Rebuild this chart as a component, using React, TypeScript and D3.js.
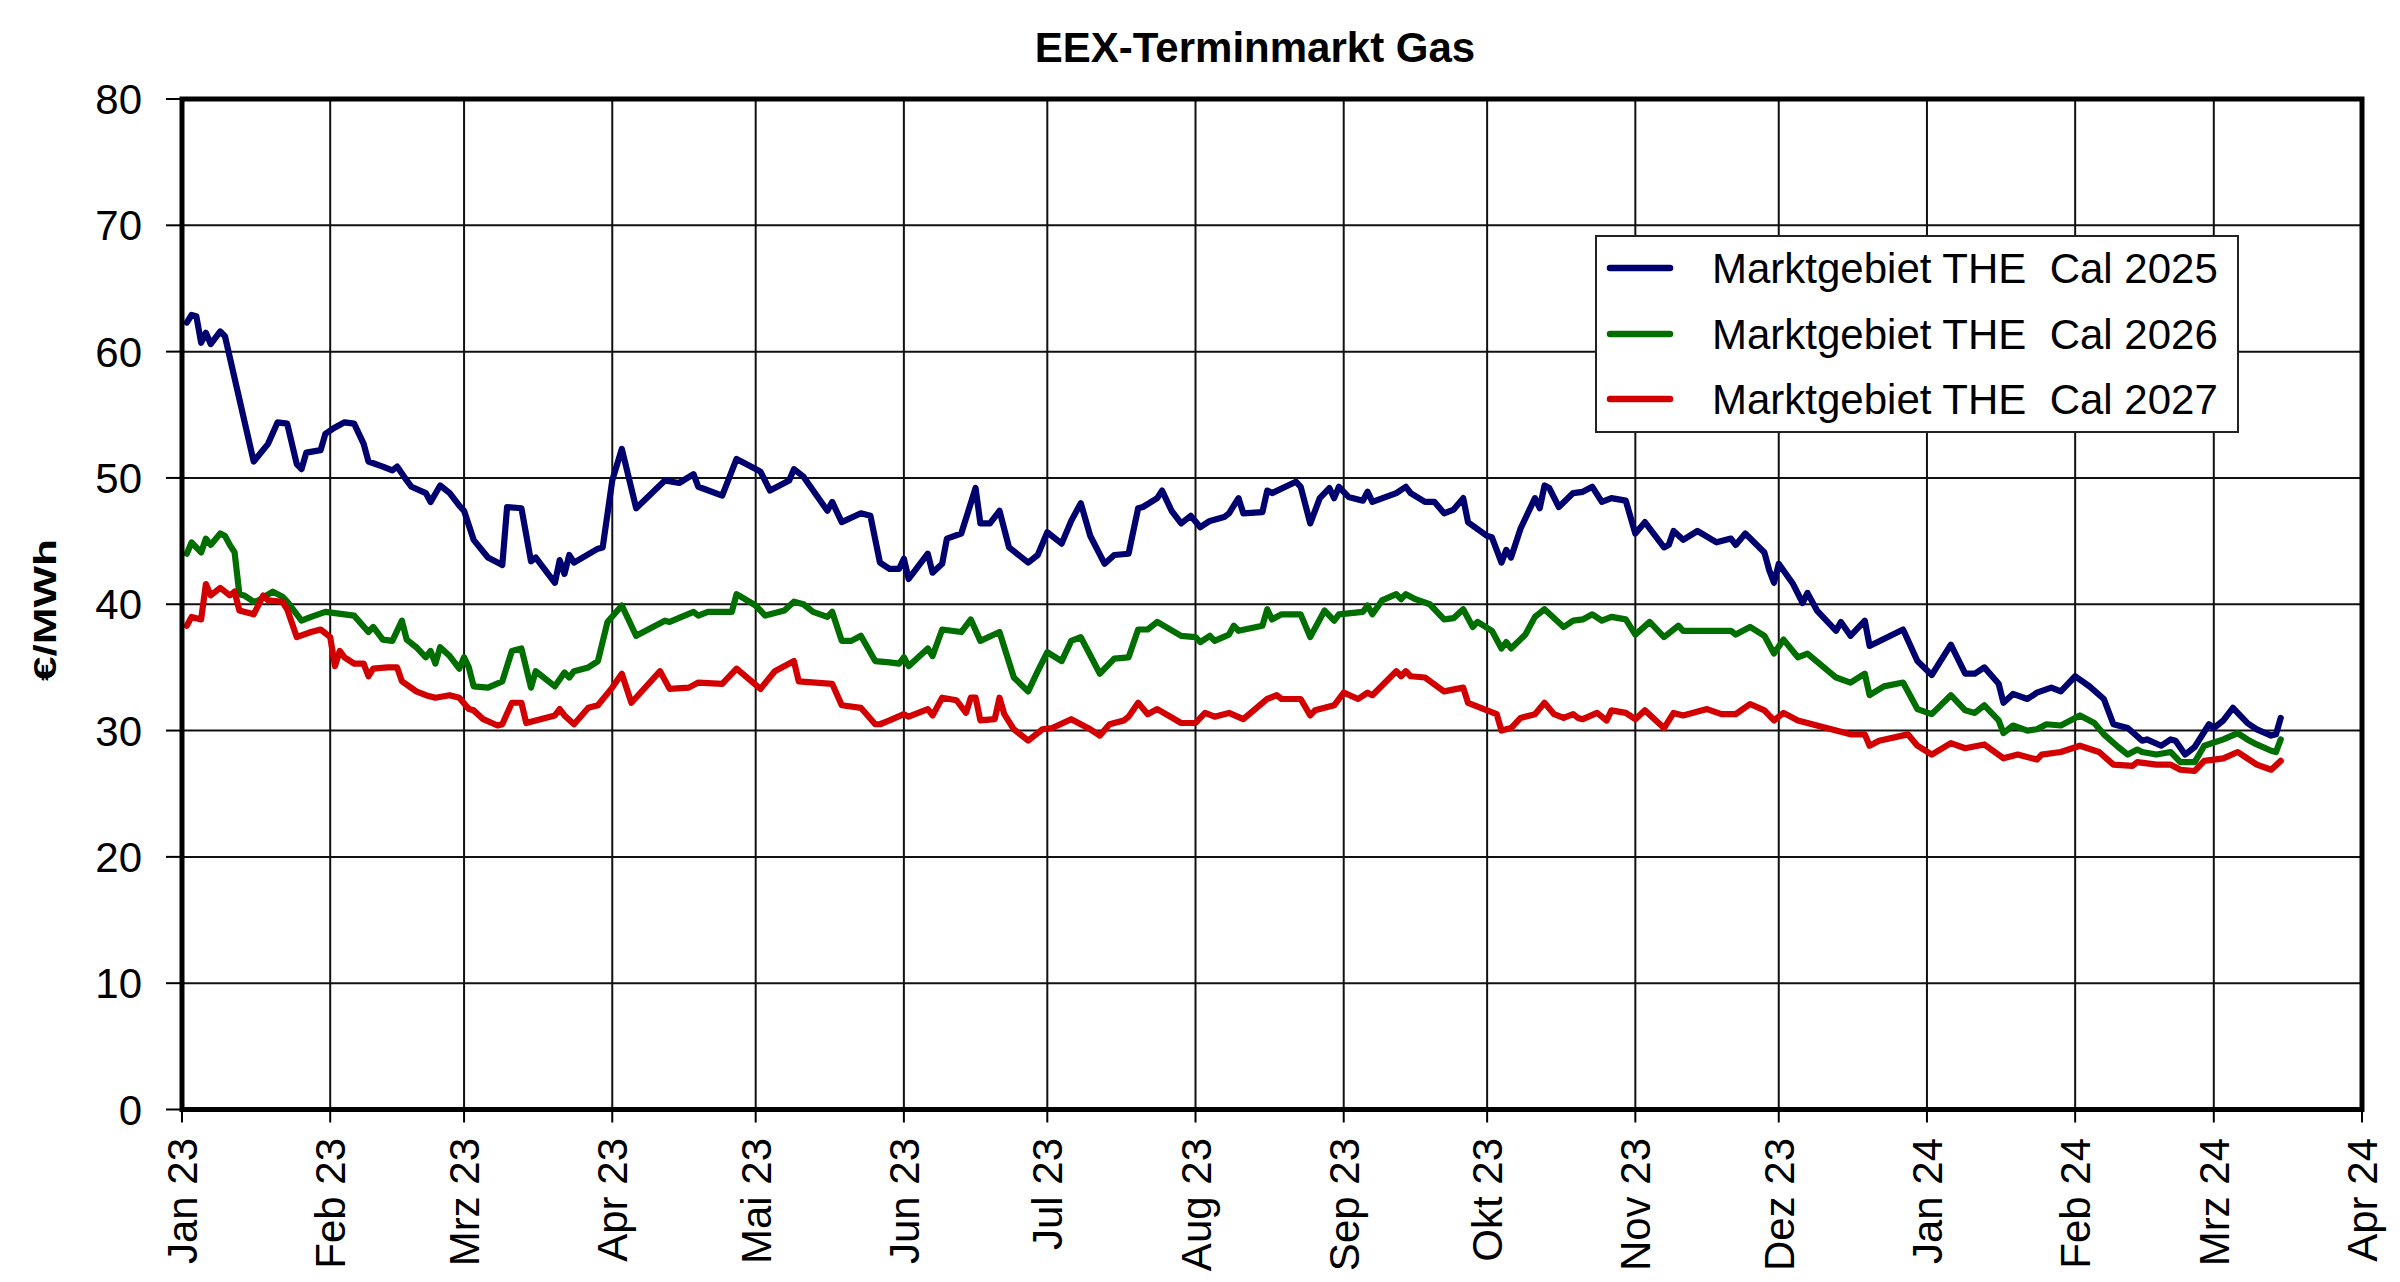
import React from 'react';
import * as d3 from 'd3';

const chartTitle = 'EEX-Terminmarkt Gas';
const yAxisTitle = '€/MWh';
const yTickValues = [0, 10, 20, 30, 40, 50, 60, 70, 80];
const monthLabels = [
  'Jan 23', 'Feb 23', 'Mrz 23', 'Apr 23', 'Mai 23', 'Jun 23', 'Jul 23', 'Aug 23',
  'Sep 23', 'Okt 23', 'Nov 23', 'Dez 23', 'Jan 24', 'Feb 24', 'Mrz 24', 'Apr 24',
];
const seriesNames = [
  'Marktgebiet THE  Cal 2025',
  'Marktgebiet THE  Cal 2026',
  'Marktgebiet THE  Cal 2027',
];
const seriesColors = ['#00006e', '#006e00', '#d20000'];

// [days since 2023-01-01, €/MWh]
const cal2025: [number, number][] = [
  [1, 62.3], [2, 62.9], [3, 62.8], [4, 60.7], [5, 61.5], [6, 60.6], [8, 61.6], [9, 61.2], [15, 51.3], [18, 52.7],
  [20, 54.4], [22, 54.3], [24, 51.1], [25, 50.7], [26, 52.0], [29, 52.2], [30, 53.5], [32, 54.0], [34, 54.4], [36, 54.3],
  [38, 52.7], [39, 51.3], [42, 50.9], [44, 50.6], [45, 50.9], [47, 49.8], [48, 49.3], [51, 48.8], [52, 48.1], [54, 49.4],
  [56, 48.8], [58, 47.8], [59, 47.4], [61, 45.1], [64, 43.7], [66, 43.3], [67, 43.1], [68, 47.7], [71, 47.6], [73, 43.4],
  [74, 43.7], [78, 41.7], [79, 43.5], [80, 42.4], [81, 43.9], [82, 43.3], [87, 44.4], [88, 44.5], [90, 49.8], [92, 52.3],
  [95, 47.6], [101, 49.8], [104, 49.6], [107, 50.3], [108, 49.3], [113, 48.6], [116, 51.5], [120, 50.7], [121, 50.5], [123, 49.0],
  [127, 49.8], [128, 50.7], [130, 50.1], [135, 47.4], [136, 48.1], [138, 46.5], [142, 47.2], [144, 47.0], [146, 43.3], [148, 42.8],
  [150, 42.8], [151, 43.6], [152, 42.0], [156, 44.0], [157, 42.5], [159, 43.2], [160, 45.2], [163, 45.6], [166, 49.2], [167, 46.4],
  [169, 46.4], [171, 47.4], [173, 44.5], [177, 43.3], [179, 43.9], [181, 45.7], [184, 44.8], [186, 46.6], [188, 48.0], [190, 45.4],
  [193, 43.2], [195, 43.9], [198, 44.0], [200, 47.6], [201, 47.7], [204, 48.4], [205, 49.0], [207, 47.4], [209, 46.4], [211, 47.0],
  [213, 46.1], [215, 46.6], [218, 46.9], [219, 47.2], [221, 48.4], [222, 47.2], [226, 47.3], [227, 49.0], [228, 48.8], [233, 49.7],
  [234, 49.3], [236, 46.4], [238, 48.4], [240, 49.2], [241, 48.4], [242, 49.3], [244, 48.5], [247, 48.2], [248, 48.9], [249, 48.1],
  [254, 48.8], [256, 49.3], [257, 48.8], [260, 48.1], [262, 48.1], [264, 47.2], [266, 47.5], [268, 48.4], [269, 46.5], [273, 45.4],
  [274, 45.3], [276, 43.3], [277, 44.3], [278, 43.7], [280, 46.0], [283, 48.4], [284, 47.6], [285, 49.4], [286, 49.2], [288, 47.7],
  [291, 48.8], [293, 48.9], [295, 49.3], [297, 48.1], [299, 48.4], [302, 48.2], [304, 45.6], [306, 46.5], [310, 44.5], [311, 44.7],
  [312, 45.8], [314, 45.1], [317, 45.8], [321, 44.9], [324, 45.2], [325, 44.7], [327, 45.6], [331, 44.1], [332, 42.7], [333, 41.7],
  [334, 43.2], [337, 41.6], [339, 40.1], [340, 40.9], [342, 39.5], [346, 37.9], [347, 38.6], [349, 37.5], [352, 38.7], [353, 36.7],
  [360, 38.0], [363, 35.5], [366, 34.4], [370, 36.8], [373, 34.5], [375, 34.5], [377, 35.0], [380, 33.7], [381, 32.2], [383, 32.9],
  [386, 32.5], [388, 33.0], [391, 33.4], [393, 33.1], [396, 34.3], [399, 33.5], [402, 32.5], [404, 30.5], [407, 30.2], [410, 29.2],
  [411, 29.3], [414, 28.8], [416, 29.3], [417, 29.2], [419, 28.1], [421, 28.7], [424, 30.5], [425, 30.2], [427, 30.8], [429, 31.8],
  [432, 30.6], [434, 30.1], [437, 29.6], [438, 29.7], [439, 31.0],
];

const cal2026: [number, number][] = [
  [1, 44.0], [2, 44.9], [4, 44.1], [5, 45.2], [6, 44.7], [8, 45.6], [9, 45.4], [10, 44.7], [11, 44.1], [12, 40.8],
  [13, 40.7], [15, 40.2], [16, 40.3], [19, 41.0], [21, 40.6], [22, 40.2], [25, 38.7], [27, 39.0], [30, 39.4], [34, 39.2],
  [36, 39.1], [39, 37.8], [40, 38.2], [42, 37.2], [44, 37.1], [46, 38.7], [47, 37.2], [49, 36.6], [51, 35.8], [52, 36.3],
  [53, 35.3], [54, 36.6], [56, 35.9], [58, 34.9], [59, 35.8], [60, 35.0], [61, 33.5], [64, 33.4], [67, 33.9], [69, 36.3],
  [71, 36.5], [73, 33.4], [74, 34.7], [78, 33.5], [80, 34.6], [81, 34.2], [82, 34.7], [85, 35.0], [87, 35.5], [89, 38.6],
  [92, 39.9], [95, 37.5], [101, 38.7], [102, 38.6], [107, 39.4], [108, 39.1], [110, 39.4], [115, 39.4], [116, 40.8], [120, 39.9],
  [122, 39.1], [126, 39.5], [128, 40.2], [130, 40.0], [132, 39.4], [135, 39.0], [136, 39.4], [138, 37.1], [140, 37.1], [142, 37.5],
  [145, 35.5], [148, 35.4], [150, 35.3], [151, 35.8], [152, 35.1], [156, 36.5], [157, 35.9], [159, 38.0], [163, 37.8], [165, 38.8],
  [167, 37.1], [171, 37.8], [174, 34.2], [177, 33.1], [179, 34.7], [181, 36.2], [184, 35.5], [186, 37.1], [188, 37.4], [192, 34.5],
  [195, 35.7], [198, 35.8], [200, 38.0], [202, 38.0], [204, 38.6], [209, 37.5], [212, 37.4], [213, 37.0], [215, 37.5], [216, 37.1],
  [219, 37.6], [220, 38.3], [221, 37.9], [226, 38.3], [227, 39.6], [228, 38.8], [230, 39.2], [234, 39.2], [236, 37.4], [239, 39.5],
  [241, 38.7], [242, 39.2], [247, 39.4], [248, 39.9], [249, 39.2], [251, 40.3], [254, 40.8], [255, 40.4], [256, 40.8], [258, 40.4],
  [261, 40.0], [264, 38.8], [266, 38.9], [268, 39.6], [270, 38.2], [271, 38.6], [274, 37.9], [276, 36.5], [277, 37.0], [278, 36.5],
  [281, 37.6], [283, 39.0], [285, 39.6], [289, 38.2], [291, 38.7], [293, 38.8], [295, 39.2], [297, 38.7], [299, 39.0], [302, 38.8],
  [304, 37.6], [307, 38.6], [310, 37.4], [313, 38.3], [314, 37.9], [324, 37.9], [325, 37.6], [328, 38.2], [331, 37.5], [333, 36.1],
  [335, 37.2], [338, 35.8], [340, 36.1], [346, 34.2], [349, 33.8], [352, 34.5], [353, 32.8], [356, 33.5], [360, 33.8], [363, 31.7],
  [366, 31.3], [370, 32.8], [373, 31.6], [375, 31.4], [377, 32.0], [380, 30.8], [381, 29.8], [383, 30.4], [386, 30.0], [388, 30.1],
  [390, 30.5], [393, 30.4], [397, 31.2], [400, 30.6], [402, 29.7], [405, 28.7], [407, 28.1], [409, 28.5], [410, 28.3], [413, 28.1],
  [416, 28.3], [418, 27.5], [421, 27.5], [423, 28.8], [427, 29.3], [430, 29.8], [432, 29.3], [434, 28.9], [437, 28.4], [438, 28.3],
  [439, 29.3],
];

const cal2027: [number, number][] = [
  [1, 38.3], [2, 39.0], [4, 38.8], [5, 41.6], [6, 40.7], [8, 41.3], [10, 40.7], [11, 41.0], [12, 39.5], [15, 39.2],
  [17, 40.7], [18, 40.3], [21, 40.2], [22, 39.6], [24, 37.4], [27, 37.8], [29, 38.0], [31, 37.4], [32, 35.1], [33, 36.3],
  [34, 35.8], [36, 35.3], [38, 35.3], [39, 34.3], [40, 34.9], [43, 35.0], [45, 35.0], [46, 33.9], [49, 33.1], [51, 32.8],
  [53, 32.6], [56, 32.8], [58, 32.6], [60, 31.7], [61, 31.6], [63, 30.9], [66, 30.4], [67, 30.5], [69, 32.2], [71, 32.2],
  [72, 30.6], [78, 31.2], [79, 31.7], [80, 31.2], [82, 30.5], [85, 31.8], [87, 32.0], [90, 33.4], [92, 34.5], [94, 32.2],
  [100, 34.7], [102, 33.3], [106, 33.4], [108, 33.8], [113, 33.7], [116, 34.9], [121, 33.3], [124, 34.7], [128, 35.5], [129, 33.9],
  [136, 33.7], [138, 32.0], [142, 31.8], [145, 30.5], [146, 30.5], [148, 30.8], [151, 31.3], [152, 31.1], [156, 31.7], [157, 31.2],
  [159, 32.6], [162, 32.4], [164, 31.4], [165, 32.6], [166, 32.6], [167, 30.8], [170, 30.9], [171, 32.6], [172, 31.3], [174, 30.1],
  [177, 29.2], [180, 30.1], [182, 30.2], [186, 30.9], [190, 30.1], [192, 29.6], [194, 30.5], [197, 30.8], [198, 31.1], [200, 32.2],
  [202, 31.3], [204, 31.7], [209, 30.6], [212, 30.6], [214, 31.4], [216, 31.1], [219, 31.4], [222, 30.9], [227, 32.5], [229, 32.8],
  [230, 32.5], [234, 32.5], [236, 31.2], [237, 31.6], [241, 32.0], [243, 33.0], [246, 32.5], [248, 33.0], [249, 32.8], [254, 34.7],
  [255, 34.3], [256, 34.7], [257, 34.3], [260, 34.2], [264, 33.1], [268, 33.4], [269, 32.2], [273, 31.6], [275, 31.3], [276, 30.0],
  [278, 30.2], [280, 31.0], [283, 31.3], [285, 32.2], [287, 31.3], [289, 31.0], [291, 31.3], [292, 31.0], [293, 30.9], [296, 31.4],
  [298, 30.8], [299, 31.6], [302, 31.4], [304, 30.9], [306, 31.6], [310, 30.2], [312, 31.4], [314, 31.2], [319, 31.7], [322, 31.3],
  [325, 31.3], [328, 32.1], [331, 31.6], [333, 30.8], [335, 31.4], [338, 30.8], [344, 30.2], [349, 29.7], [352, 29.7], [353, 28.8],
  [355, 29.2], [361, 29.7], [363, 28.8], [366, 28.1], [370, 29.0], [373, 28.6], [377, 28.9], [381, 27.8], [384, 28.1], [388, 27.7],
  [389, 28.1], [393, 28.3], [397, 28.8], [401, 28.3], [404, 27.3], [408, 27.2], [409, 27.5], [413, 27.3], [416, 27.3], [418, 26.9],
  [421, 26.8], [423, 27.6], [427, 27.8], [430, 28.3], [432, 27.8], [434, 27.3], [437, 26.9], [439, 27.6],
];

const allSeries = [cal2025, cal2026, cal2027];

const FONT = '"Liberation Sans", Arial, Helvetica, sans-serif';

export default function App() {
  const W = 2400;
  const H = 1282;
  const left = 182;
  const right = 2362;
  const top = 99;
  const bottom = 1109.5;

  const start = new Date(2023, 0, 1);
  const end = new Date(2024, 3, 1);
  const x = d3.scaleTime().domain([start, end]).range([left, right]);
  const y = d3.scaleLinear().domain([0, 80]).range([bottom, top]);
  const months = d3.timeMonth.range(start, d3.timeDay.offset(end, 1));

  const line = d3
    .line<[number, number]>()
    .x((d) => x(d3.timeDay.offset(start, d[0])))
    .y((d) => y(d[1]));

  const legendX = 1596;
  const legendY = 236;
  const legendW = 642;
  const legendH = 196;
  const rowYs = [268, 334, 399];

  return (
    <svg
      width={W}
      height={H}
      viewBox={`0 0 ${W} ${H}`}
      style={{ position: 'absolute', left: 0, top: 0, background: '#fff' }}
      fontFamily={FONT}
    >
      <rect x={0} y={0} width={W} height={H} fill="#fff" />
      {/* title */}
      <text x={1255} y={62} textAnchor="middle" fontSize={42} fontWeight="bold" fill="#000">
        {chartTitle}
      </text>

      {/* horizontal gridlines */}
      {yTickValues.map((v) => (
        <line key={'hg' + v} x1={left} x2={right} y1={y(v)} y2={y(v)} stroke="#111" strokeWidth={2} />
      ))}
      {/* vertical gridlines */}
      {months.map((m, i) => (
        <line key={'vg' + i} x1={x(m)} x2={x(m)} y1={top} y2={bottom} stroke="#111" strokeWidth={2} />
      ))}

      {/* y ticks and labels */}
      {yTickValues.map((v) => (
        <g key={'yt' + v}>
          <line x1={166} x2={left} y1={y(v)} y2={y(v)} stroke="#000" strokeWidth={2} />
          <text x={142} y={y(v)} dy="0.36em" textAnchor="end" fontSize={42} fill="#000">
            {v}
          </text>
        </g>
      ))}

      {/* x ticks and labels */}
      {months.map((m, i) => (
        <g key={'xt' + i}>
          <line x1={x(m)} x2={x(m)} y1={bottom} y2={bottom + 13} stroke="#000" strokeWidth={2} />
          <text
            transform={`translate(${x(m)},${1138}) rotate(-90)`}
            dy="0.36em"
            textAnchor="end"
            fontSize={42}
            fill="#000"
          >
            {monthLabels[i]}
          </text>
        </g>
      ))}

      {/* series */}
      {allSeries.map((s, i) => (
        <path
          key={'s' + i}
          d={line(s) || ''}
          fill="none"
          stroke={seriesColors[i]}
          strokeWidth={6.2}
          strokeLinejoin="round"
          strokeLinecap="round"
        />
      ))}

      {/* frame */}
      <rect x={left} y={top} width={right - left} height={bottom - top} fill="none" stroke="#000" strokeWidth={5} />

      {/* y axis title */}
      <text
        transform={`translate(45,610) rotate(-90)`}
        dy="0.36em"
        textAnchor="middle"
        fontSize={31}
        fontWeight="bold"
        fill="#000"
        textLength={142}
        lengthAdjust="spacingAndGlyphs"
      >
        {yAxisTitle}
      </text>

      {/* legend */}
      <rect x={legendX} y={legendY} width={legendW} height={legendH} fill="#fff" stroke="#222" strokeWidth={2} />
      {seriesNames.map((name, i) => (
        <g key={'lg' + i}>
          <line
            x1={1610}
            x2={1670}
            y1={rowYs[i]}
            y2={rowYs[i]}
            stroke={seriesColors[i]}
            strokeWidth={6.5}
            strokeLinecap="round"
          />
          <text x={1712} y={rowYs[i]} dy="0.36em" fontSize={42} fill="#000" style={{ whiteSpace: 'pre' }}>
            {name}
          </text>
        </g>
      ))}
    </svg>
  );
}
